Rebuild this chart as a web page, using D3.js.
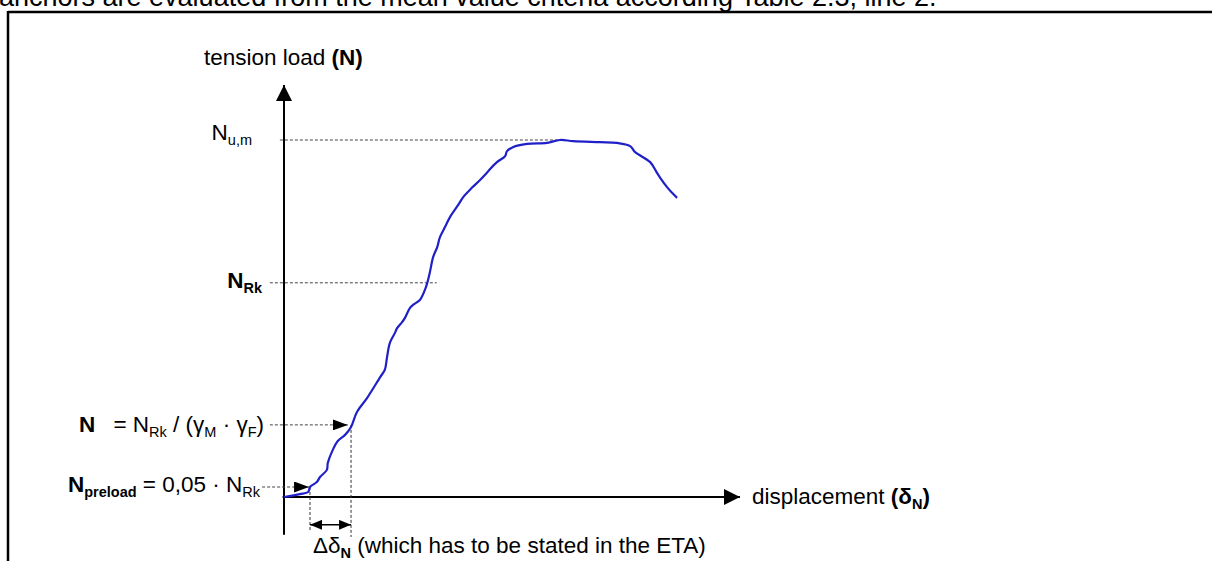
<!DOCTYPE html>
<html>
<head>
<meta charset="utf-8">
<script src="https://cdn.jsdelivr.net/npm/d3@7"></script>
<style>
  html, body { margin: 0; padding: 0; background: #fff; }
  svg { display: block; }
  text { font-family: "Liberation Sans", Arial, sans-serif; fill: #000; }
</style>
</head>
<body>
<svg id="chart" width="1212" height="561"></svg>
<script>
// ---- data (displacement in arbitrary units, load in % of N_u,m) ----
const displacement = [0, 0.35, 0.53, 0.57, 0.72, 0.79, 0.94, 0.96, 1.07, 1.18, 1.34, 1.47, 1.60, 1.82,
  2.11, 2.21, 2.26, 2.32, 2.43, 2.48, 2.59, 2.65, 2.76, 2.83, 2.98, 3.09, 3.14, 3.20, 3.27, 3.36,
  3.42, 3.53, 3.64, 3.82, 3.93, 4.12, 4.30, 4.45, 4.50, 4.67, 4.85, 4.89, 5.02, 5.33, 5.77, 6.05,
  6.34, 6.93, 7.30, 7.59, 7.70, 8.03, 8.18, 8.25, 8.40, 8.51, 8.62];
const tensionLoad = [0, 0.8, 1.4, 2.8, 4.2, 5.6, 7.6, 9.5, 13.2, 15.7, 17.4, 19.6, 23.8, 27.7,
  33.6, 35.6, 39.2, 43.1, 45.9, 47.3, 49.0, 50.1, 52.9, 53.8, 55.2, 58.0, 59.9, 63.0, 67.2, 70.0,
  72.8, 75.6, 78.4, 81.8, 84.0, 86.6, 88.8, 90.8, 91.6, 93.8, 95.5, 96.9, 98.0, 98.9, 99.2, 100.0,
  99.7, 99.4, 99.2, 98.3, 96.6, 93.8, 90.8, 89.4, 86.8, 85.2, 83.8];

// reference levels: load value, displacement where the dotted line ends, start of dotted line
const levelNames = ["Nu,m", "NRk", "N", "Npreload"];
const levelLoads = [100, 60, 20.2, 2.8];
const levelEnds = [6.05, 3.35, 1.40, 0.55];
const levelStarts = [-0.09, -0.31, -0.31, -0.48];
const levelArrow = [false, false, true, true];

// delta displacement markers
const deltaDisp = [0.57, 1.47];
const deltaLoad = [2.8, 20.2];

const titleText = "anchors are evaluated from the mean value criteria according Table 2.3, line 2.";

// ---- layout ----
const svg = d3.select("#chart");
const x = d3.scaleLinear().domain([0, 10]).range([284, 740]);
const y = d3.scaleLinear().domain([0, 100]).range([497, 140]);

const FS = 22.5, SUB = 14.5, SHIFT = 5;

function rich(parent, px, py, parts, anchor) {
  const t = parent.append("text").attr("x", px).attr("y", py).attr("font-size", FS)
    .attr("text-anchor", anchor || "start");
  let down = false;
  parts.forEach(p => {
    const ts = t.append("tspan").text(p.t);
    if (p.b) ts.attr("font-weight", "bold");
    if (p.s && !down) { ts.attr("dy", SHIFT); down = true; }
    else if (!p.s && down) { ts.attr("dy", -SHIFT); down = false; }
    if (p.s) ts.attr("font-size", SUB);
  });
  return t;
}

// frame + clipped heading text
svg.append("text").attr("x", -1).attr("y", 6).attr("font-size", 27).text(titleText);
svg.append("line").attr("x1", 8).attr("x2", 1212).attr("y1", 12).attr("y2", 12)
  .attr("stroke", "#000").attr("stroke-width", 2.5);
svg.append("line").attr("x1", 8).attr("x2", 8).attr("y1", 11).attr("y2", 561)
  .attr("stroke", "#000").attr("stroke-width", 2.5);

// arrow markers
const defs = svg.append("defs");
function marker(id, w, h, refX, d) {
  defs.append("marker").attr("id", id).attr("viewBox", "0 0 10 10")
    .attr("refX", refX).attr("refY", 5).attr("markerUnits", "userSpaceOnUse")
    .attr("markerWidth", w).attr("markerHeight", h).attr("orient", "auto")
    .attr("preserveAspectRatio", "none")
    .append("path").attr("d", d).attr("fill", "#000");
}
marker("bigArrow", 16, 16, 10, "M0,0 L10,5 L0,10 Z");
marker("smallArrow", 15, 11, 10, "M0,0 L10,5 L0,10 Z");
marker("smallArrowStart", 12, 10, 0, "M10,0 L0,5 L10,10 Z");
marker("smallArrowEnd", 12, 10, 10, "M0,0 L10,5 L0,10 Z");

// axes
svg.append("line").attr("x1", x(0)).attr("x2", x(0)).attr("y1", y(-10.6)).attr("y2", y(115.4))
  .attr("stroke", "#000").attr("stroke-width", 2).attr("marker-end", "url(#bigArrow)");
svg.append("line").attr("x1", x(-0.03)).attr("x2", x(10)).attr("y1", y(0)).attr("y2", y(0))
  .attr("stroke", "#000").attr("stroke-width", 2).attr("marker-end", "url(#bigArrow)");

// reference dotted lines
levelNames.forEach((n, i) => {
  const l = svg.append("line")
    .attr("x1", x(levelStarts[i])).attr("x2", x(levelEnds[i]))
    .attr("y1", y(levelLoads[i])).attr("y2", y(levelLoads[i]))
    .attr("stroke", "#444").attr("stroke-width", 1).attr("stroke-dasharray", "3,2");
  if (levelArrow[i]) l.attr("marker-end", "url(#smallArrow)");
});

// vertical dashed lines for delta
deltaDisp.forEach((d, i) => {
  svg.append("line").attr("x1", x(d)).attr("x2", x(d))
    .attr("y1", y(deltaLoad[i])).attr("y2", y(i === 0 ? -9.8 : -11.2))
    .attr("stroke", "#333").attr("stroke-width", 1).attr("stroke-dasharray", "3,2");
});
svg.append("line").attr("x1", x(deltaDisp[0])).attr("x2", x(deltaDisp[1]))
  .attr("y1", y(-7.8)).attr("y2", y(-7.8))
  .attr("stroke", "#000").attr("stroke-width", 1.5)
  .attr("marker-start", "url(#smallArrowStart)").attr("marker-end", "url(#smallArrowEnd)");

// curve
const line = d3.line().x((d, i) => x(displacement[i])).y((d, i) => y(tensionLoad[i]))
  .curve(d3.curveCatmullRom.alpha(0.5));
svg.append("path").datum(tensionLoad).attr("d", line)
  .attr("fill", "none").attr("stroke", "#2020c8").attr("stroke-width", 2.2)
  .attr("stroke-linejoin", "round");

// labels
rich(svg, 204, 65, [{t: "tension load "}, {t: "(N)", b: true}]);
rich(svg, 252, 140, [{t: "N"}, {t: "u,m", s: true}], "end");
rich(svg, 262, 288, [{t: "N", b: true}, {t: "Rk", s: true, b: true}], "end");
rich(svg, 79, 432, [{t: "N", b: true}]);
rich(svg, 264, 432, [{t: "= N"}, {t: "Rk", s: true}, {t: " / (γ"}, {t: "M", s: true}, {t: " · γ"}, {t: "F", s: true}, {t: ")"}], "end");
rich(svg, 260, 492, [{t: "N", b: true}, {t: "preload", s: true, b: true}, {t: " = 0,05 · N"}, {t: "Rk", s: true}], "end");
rich(svg, 752, 504, [{t: "displacement "}, {t: "(δ", b: true}, {t: "N", s: true, b: true}, {t: ")", b: true}]);
rich(svg, 313, 553, [{t: "Δδ"}, {t: "N", s: true, b: true}, {t: " (which has to be stated in the ETA)"}]);
</script>
</body>
</html>
